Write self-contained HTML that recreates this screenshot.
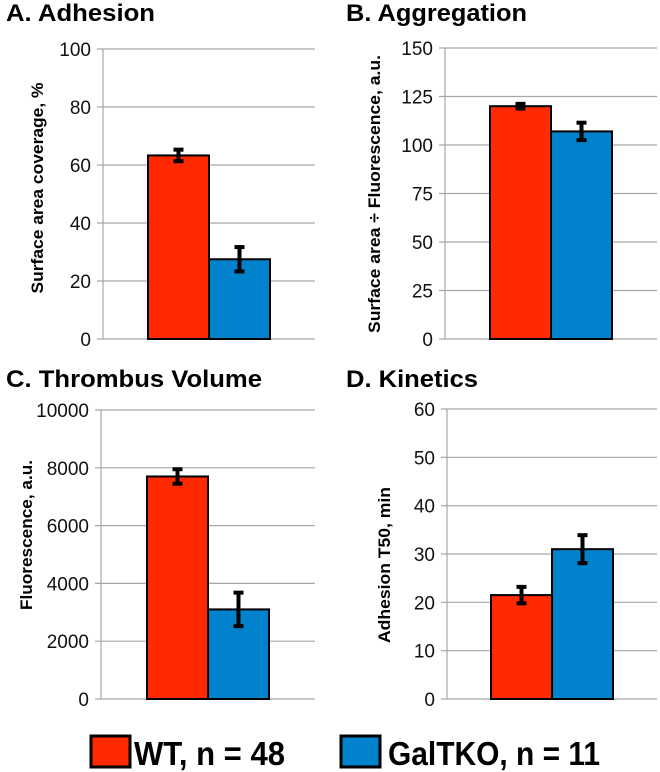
<!DOCTYPE html>
<html><head><meta charset="utf-8"><style>
html,body{margin:0;padding:0;background:#fff;}
svg{display:block;font-family:"Liberation Sans",sans-serif;}
</style></head><body>
<svg id="fig" width="660" height="772" xmlns="http://www.w3.org/2000/svg">
<g id="legend">
<rect x="91" y="736" width="39" height="31" fill="#ff2a00" stroke="#000" stroke-width="3"/>
<text x="134" y="765" font-size="33" font-weight="bold" textLength="151" lengthAdjust="spacingAndGlyphs">WT, n = 48</text>
<rect x="341" y="736" width="39" height="31" fill="#0083cc" stroke="#000" stroke-width="3"/>
<text x="388" y="765" font-size="33" font-weight="bold" textLength="212" lengthAdjust="spacingAndGlyphs">GalTKO, n = 11</text>
</g>
</svg>
<script>
const categories = ["WT", "GalTKO"];
const adhesionValues = [63.3, 27.5];
const adhesionErrors = [2.0, 4.2];
const aggregationValues = [120, 107];
const aggregationErrors = [1.2, 4.5];
const volumeValues = [7700, 3100];
const volumeErrors = [250, 580];
const kineticsValues = [21.5, 31];
const kineticsErrors = [1.7, 2.9];
const adhesionTicks = [0, 20, 40, 60, 80, 100];
const aggregationTicks = [0, 25, 50, 75, 100, 125, 150];
const volumeTicks = [0, 2000, 4000, 6000, 8000, 10000];
const kineticsTicks = [0, 10, 20, 30, 40, 50, 60];
const colors = ["#ff2a00", "#0083cc"];

const NS = "http://www.w3.org/2000/svg";
const svg = document.getElementById("fig");
function mk(tag, attrs, parent) {
  const e = document.createElementNS(NS, tag);
  for (const k in attrs) e.setAttribute(k, attrs[k]);
  parent.appendChild(e);
  return e;
}
function panel(key, title, titleX, titleY, titleLen, axisTitle, axTitleLen, axTitleCY, axX, axR, yTop, yBot, ticks, vals, errs, barX, barW, axTitleX) {
  const g = mk("g", {}, svg);
  
  
  const max = ticks[ticks.length - 1];
  const y = v => yBot - (v / max) * (yBot - yTop);
  const t = mk("text", {x: titleX, y: titleY, "font-size": 24, "font-weight": "bold", textLength: titleLen, lengthAdjust: "spacingAndGlyphs"}, g);
  t.textContent = title;
  
  
  ticks.forEach(tv => {
    const l = mk("line", {x1: axX - 6, x2: axR, y1: y(tv), y2: y(tv), stroke: "#a6a6a6", "stroke-width": 1.2}, g);
    
    
    const lt = mk("text", {x: axX - 12, y: y(tv) + 7, "font-size": 19, "text-anchor": "end", fill: "#111"}, g);
    lt.textContent = tv;
    
    
  });
  const ax = mk("line", {x1: axX, x2: axX, y1: yTop, y2: yBot, stroke: "#a6a6a6", "stroke-width": 1.2}, g);
  
  
  const at = mk("text", {x: 0, y: 0, "font-size": 17, "font-weight": "bold", "text-anchor": "middle", textLength: axTitleLen, lengthAdjust: "spacingAndGlyphs", transform: `translate(${axTitleX},${axTitleCY}) rotate(-90)`}, g);
  at.textContent = axisTitle;
  
  
  vals.forEach((v, i) => {
    const x = barX + i * barW;
    const r = mk("rect", {x: x, y: y(v), width: barW, height: yBot - y(v), fill: colors[i], stroke: "#000", "stroke-width": 2}, g);
    
    
    const cx = x + barW / 2;
    const eg = mk("g", {stroke: "#000", "stroke-width": 4}, g);
    
    
    mk("line", {x1: cx, x2: cx, y1: y(v + errs[i]), y2: y(v - errs[i])}, eg);
    mk("line", {x1: cx - 5, x2: cx + 5, y1: y(v + errs[i]), y2: y(v + errs[i])}, eg);
    mk("line", {x1: cx - 5, x2: cx + 5, y1: y(v - errs[i]), y2: y(v - errs[i])}, eg);
  });
}
panel("adhesion", "A.  Adhesion", 6, 21, 149, "Surface area coverage, %", 211, 188, 103, 315, 49, 339, adhesionTicks, adhesionValues, adhesionErrors, 148, 61, 43);
panel("aggregation", "B.  Aggregation", 346, 21, 181, "Surface area \u00f7 Fluorescence, a.u.", 278, 194, 445, 657, 48, 339, aggregationTicks, aggregationValues, aggregationErrors, 490, 61, 380);
panel("volume", "C.  Thrombus Volume", 6, 387, 256, "Fluorescence, a.u.", 150, 535, 101, 315, 410, 699, volumeTicks, volumeValues, volumeErrors, 147, 61, 32);
panel("kinetics", "D.  Kinetics", 346, 387, 132, "Adhesion T50, min", 156, 565, 447, 657, 409, 699, kineticsTicks, kineticsValues, kineticsErrors, 491, 61, 390);
</script>
</body></html>
